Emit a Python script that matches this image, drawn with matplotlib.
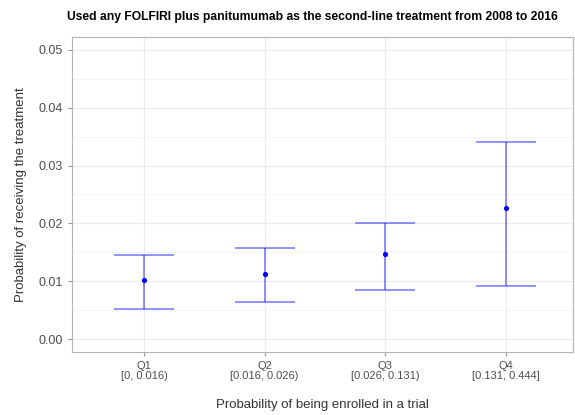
import matplotlib.pyplot as plt
import numpy as np

plt.rcParams['font.family'] = ['Liberation Sans', 'DejaVu Sans']

quartiles = ["Q1", "Q2", "Q3", "Q4"]
intervals = ["[0, 0.016)", "[0.016, 0.026)", "[0.026, 0.131)", "[0.131, 0.444]"]
estimate = [0.0102, 0.0112, 0.0147, 0.0227]
lower = [0.0052, 0.0065, 0.0085, 0.0092]
upper = [0.0146, 0.0157, 0.0200, 0.0341]

fig = plt.figure(figsize=(5.75, 4.15), dpi=100)
ax = fig.add_axes([72 / 575, 1 - 352 / 415, 501 / 575, 315 / 415])

x = np.arange(1, len(quartiles) + 1)
est = np.array(estimate)
yerr = [est - np.array(lower), np.array(upper) - est]
ax.errorbar(x, est, yerr=yerr, fmt="none", ecolor="#0000ff", alpha=0.5,
            elinewidth=1.2, capsize=21.6, capthick=1.2, zorder=3)
ax.scatter(x, est, s=14, color="#0000ff", zorder=4, linewidths=0)

ax.set_xlim(0.4, 4.56)
ax.set_ylim(-0.0022, 0.0522)
ax.set_yticks([0.00, 0.01, 0.02, 0.03, 0.04, 0.05])
ax.set_yticks([0.005, 0.015, 0.025, 0.035, 0.045], minor=True)
ax.set_yticklabels(["0.00", "0.01", "0.02", "0.03", "0.04", "0.05"])
ax.set_xticks(x)
ax.set_xticklabels([f"{q}\n{i}" for q, i in zip(quartiles, intervals)],
                   fontsize=8, color="#4d4d4d", linespacing=1.0)

ax.tick_params(axis="y", labelsize=9, labelcolor="#4d4d4d", length=3, color="#999999")
ax.tick_params(axis="y", which="minor", length=0)
ax.tick_params(axis="x", length=3, color="#999999")

ax.grid(True, which="major", color="#ebebeb", linewidth=0.8)
ax.grid(True, which="minor", axis="y", color="#f3f3f3", linewidth=0.6)
ax.set_axisbelow(True)
for sp in ax.spines.values():
    sp.set_color("#b3b3b3")
    sp.set_linewidth(0.8)

ax.set_xlabel("Probability of being enrolled in a trial", fontsize=9.5, color="#333333", labelpad=13)
ax.set_ylabel("Probability of receiving the treatment", fontsize=9.5, color="#333333", labelpad=8)
fig.text(0.543, 1 - 17 / 415, "Used any FOLFIRI plus panitumumab as the second-line treatment from 2008 to 2016",
         fontsize=8.7, fontweight="bold", ha="center", va="center")

fig.savefig("out.png", dpi=100)
